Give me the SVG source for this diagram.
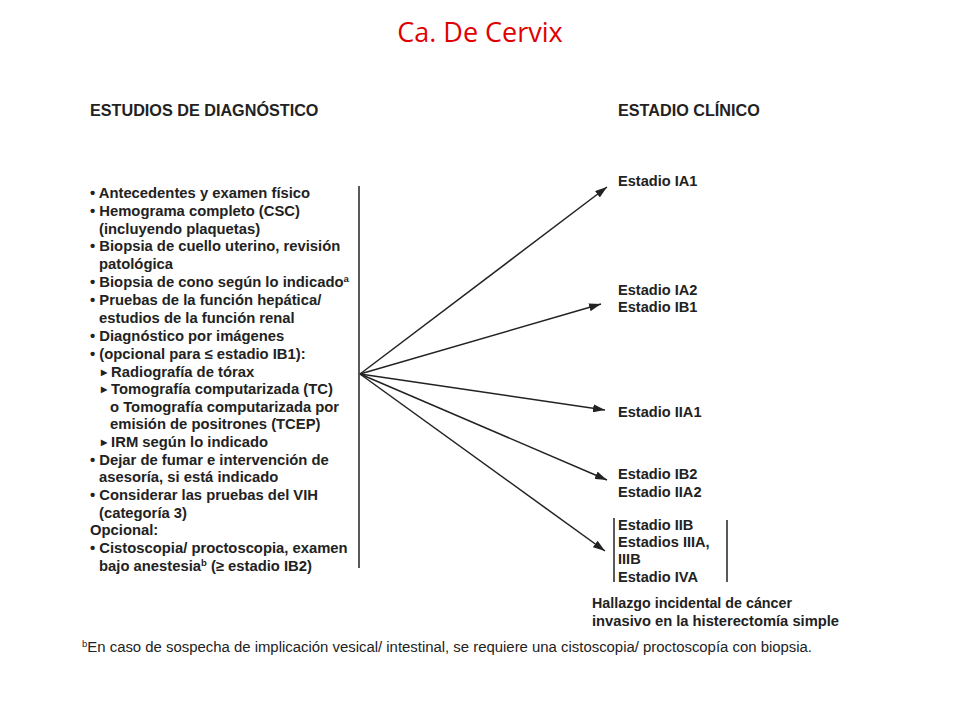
<svg xmlns="http://www.w3.org/2000/svg" width="960" height="720" viewBox="0 0 960 720">
<style>
.t{font-family:"Liberation Sans",Arial,sans-serif;font-weight:bold;font-size:14.8px;fill:#222}
.r{font-family:"Liberation Sans",Arial,sans-serif;font-weight:bold;font-size:14.6px;fill:#222}
.h{font-family:"Liberation Sans",Arial,sans-serif;font-weight:bold;font-size:16.2px;fill:#222}
.n{font-family:"Liberation Sans",Arial,sans-serif;font-size:14px;fill:#222}
.ttl{font-family:"Open Sans","Liberation Sans",sans-serif;font-size:27px;fill:#e00000}
.ln{stroke:#222;stroke-width:1.5;fill:none}
.sup{font-size:9.5px}
.tri{font-size:8px}
</style>
<defs>
<marker id="ah" markerWidth="12" markerHeight="8" refX="12" refY="4" orient="auto" markerUnits="userSpaceOnUse">
<path d="M0,0 L12,4 L0,8 z" fill="#222"/>
</marker>
</defs>
<rect width="960" height="720" fill="#fff"/>
<text class="ttl" x="480" y="42" text-anchor="middle">Ca. De Cervix</text>

<g id="diagnostico">
<text class="h" x="90" y="116">ESTUDIOS DE DIAGNÓSTICO</text>
<text class="t" x="90" y="198">• Antecedentes y examen físico</text>
<text class="t" x="90" y="216">• Hemograma completo (CSC)</text>
<text class="t" x="99" y="234">(incluyendo plaquetas)</text>
<text class="t" x="90" y="251">• Biopsia de cuello uterino, revisión</text>
<text class="t" x="99" y="269">patológica</text>
<text class="t" x="90" y="287">• Biopsia de cono según lo indicado<tspan class="sup" dy="-5">a</tspan></text>
<text class="t" x="90" y="305">• Pruebas de la función hepática/</text>
<text class="t" x="99" y="323">estudios de la función renal</text>
<text class="t" x="90" y="341">• Diagnóstico por imágenes</text>
<text class="t" x="90" y="359">• (opcional para ≤ estadio IB1):</text>
<text class="t" x="101" y="377"><tspan class="tri" dy="-2">▶</tspan><tspan dy="2"> Radiografía de tórax</tspan></text>
<text class="t" x="101" y="394"><tspan class="tri" dy="-2">▶</tspan><tspan dy="2"> Tomografía computarizada (TC)</tspan></text>
<text class="t" x="110" y="412">o Tomografía computarizada por</text>
<text class="t" x="110" y="429">emisión de positrones (TCEP)</text>
<text class="t" x="101" y="447"><tspan class="tri" dy="-2">▶</tspan><tspan dy="2"> IRM según lo indicado</tspan></text>
<text class="t" x="90" y="465">• Dejar de fumar e intervención de</text>
<text class="t" x="99" y="482">asesoría, si está indicado</text>
<text class="t" x="90" y="500">• Considerar las pruebas del VIH</text>
<text class="t" x="99" y="518">(categoría 3)</text>
<text class="t" x="90" y="535">Opcional:</text>
<text class="t" x="90" y="553">• Cistoscopia/ proctoscopia, examen</text>
<text class="t" x="99" y="571">bajo anestesia<tspan class="sup" dy="-5">b</tspan><tspan dy="5"> (≥ estadio IB2)</tspan></text>
</g>

<g id="connectors">
<line class="ln" x1="359" y1="186" x2="359" y2="568"/>
<line class="ln" x1="360" y1="374" x2="607" y2="187" marker-end="url(#ah)"/>
<line class="ln" x1="360" y1="374" x2="601" y2="304" marker-end="url(#ah)"/>
<line class="ln" x1="360" y1="374" x2="605" y2="410" marker-end="url(#ah)"/>
<line class="ln" x1="360" y1="374" x2="607" y2="480" marker-end="url(#ah)"/>
<line class="ln" x1="360" y1="374" x2="605" y2="551" marker-end="url(#ah)"/>
</g>

<g id="estadio-header"><text class="h" x="618" y="116">ESTADIO CLÍNICO</text></g>
<g id="ia1"><text class="r" x="618" y="186">Estadio IA1</text></g>
<g id="ia2-ib1">
<text class="r" x="618" y="295">Estadio IA2</text>
<text class="r" x="618" y="312">Estadio IB1</text>
</g>
<g id="iia1"><text class="r" x="618" y="417">Estadio IIA1</text></g>
<g id="ib2-iia2">
<text class="r" x="618" y="479">Estadio IB2</text>
<text class="r" x="618" y="497">Estadio IIA2</text>
</g>
<g id="iib-iva">
<line class="ln" x1="614" y1="518" x2="614" y2="582"/>
<line class="ln" x1="727" y1="520" x2="727" y2="582"/>
<text class="r" x="618" y="530">Estadio IIB</text>
<text class="r" x="618" y="547">Estadios IIIA,</text>
<text class="r" x="618" y="564">IIIB</text>
<text class="r" x="618" y="582">Estadio IVA</text>
</g>
<g id="hallazgo">
<text class="r" x="592" y="608" textLength="200" lengthAdjust="spacingAndGlyphs">Hallazgo incidental de cáncer</text>
<text class="r" x="592" y="626" textLength="247" lengthAdjust="spacingAndGlyphs">invasivo en la histerectomía simple</text>
</g>
<g id="footnote">
<text class="n" x="82" y="652" textLength="730" lengthAdjust="spacingAndGlyphs"><tspan font-size="9" dy="-5">b</tspan><tspan dy="5">En caso de sospecha de implicación vesical/ intestinal, se requiere una cistoscopia/ proctoscopía con biopsia.</tspan></text>
</g>
</svg>
